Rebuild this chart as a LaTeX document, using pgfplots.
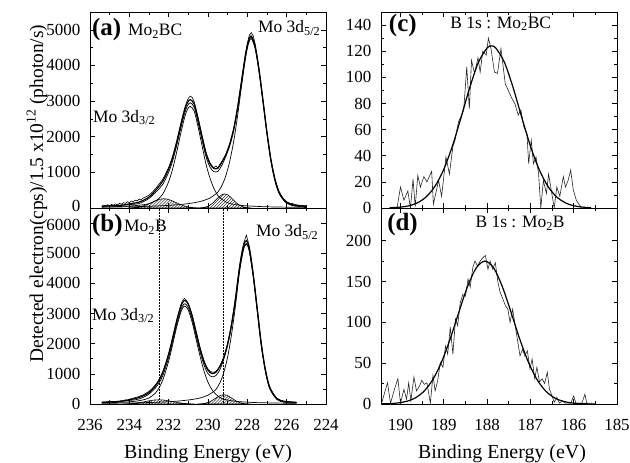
\documentclass[border=0pt]{standalone}
\usepackage{fontspec}
\setmainfont{Liberation Serif}
\usepackage{pgfplots}
\pgfplotsset{compat=1.18}
\usepackage{pgfplotstable}
\usetikzlibrary{patterns}

\pgfplotsset{
  panel/.style={
    scale only axis, width=236bp, height=196bp,
    x dir=reverse, tick align=inside,
    axis line style={line width=0.8bp},
    every tick/.style={line width=0.6bp, black},
    major tick length=5bp, minor tick length=3bp,
    ticklabel style={font=\fontsize{17}{19}\selectfont, inner sep=0.5bp},
    xticklabel style={yshift=-15bp},
    yticklabel style={xshift=-9bp},
    /pgf/number format/assume math mode=true,
    /pgf/number format/1000 sep={},
    scaled ticks=false,
    clip mode=individual,
  },
}
\tikzset{
  lbl/.style={font=\fontsize{17.5}{20}\selectfont, inner sep=0pt},
  letter/.style={font=\fontsize{25}{28}\selectfont\bfseries, inner sep=0pt},
}

% panel (a): x, upper envelope, lower envelope, Mo 3d5/2, Mo 3d3/2
\pgfplotstableread{
x      U     L     Ca    Cb
235.4  50    50    23    27
235.0  59    59    26    33
234.5  71    71    29    42
234.0  115   95    35    56
233.5  167   127   40    77
233.0  308   268   48    121
232.6  538   478   57    222
232.3  753   663   64    390
232.0  1093  1003  74    741
231.8  1409  1319  81    1092
231.6  1822  1732  89    1548
231.4  2291  2201  98    2058
231.2  2724  2634  110   2518
231.05 2955  2865  119   2761
230.9  3042  2952  131   2850
230.7  2912  2822  147   2716
230.5  2479  2389  170   2263
230.3  1991  1901  197   1744
230.1  1530  1440  233   1226
229.9  1240  1150  279   841
229.7  1112  1022  354   550
229.5  1116  1026  444   353
229.3  1283  1193  624   248
229.1  1480  1440  893   175
228.9  1776  1736  1299  126
228.7  2195  2155  1849  103
228.5  2795  2755  2570  86
228.3  3535  3495  3392  72
228.1  4272  4232  4173  62
227.95 4678  4638  4594  57
227.8  4825  4785  4750  53
227.6  4533  4493  4465  48
227.4  3862  3822  3800  42
227.2  3002  2962  2945  37
227.0  2110  2090  2066  34
226.8  1352  1332  1311  31
226.6  809   789   770   29
226.4  455   445   423   27
226.2  272   272   247   25
226.0  156   156   133   23
225.7  88    88    67    21
225.4  63    63    44    19
225.0  46    46    30    16
}\tabA

% panel (b)
\pgfplotstableread{
x      U     L     Ca    Cb
235.4  58    58    24    34
235.0  68    68    25    43
234.5  86    86    29    56
234.0  142   117   33    74
233.5  218   168   40    110
233.0  379   329   49    201
232.6  669   594   58    423
232.3  1046  936   66    796
232.0  1653  1543  75    1424
231.8  2174  2064  83    1963
231.6  2732  2622  93    2535
231.4  3193  3083  104   3006
231.3  3355  3245  111   3169
231.17 3437  3327  120   3250
231.0  3303  3193  133   3110
230.8  2904  2794  151   2698
230.6  2359  2249  172   2135
230.4  1828  1718  200   1573
230.2  1398  1288  241   1089
230.0  1117  1007  294   722
229.8  1011  901   374   475
229.6  1054  944   482   325
229.4  1241  1131  696   218
229.2  1533  1483  1039  159
229.0  1996  1946  1564  130
228.8  2649  2599  2321  106
228.6  3496  3446  3270  89
228.4  4511  4461  4357  78
228.2  5210  5160  5099  68
228.05 5420  5320  5300  63
227.9  5147  5097  5062  58
227.7  4289  4239  4214  50
227.5  3172  3122  3101  46
227.3  2042  1992  1975  42
227.1  1194  1164  1140  39
226.9  618   598   572   36
226.7  356   346   318   33
226.5  182   182   151   31
226.3  110   110   81    29
226.0  76    76    49    27
225.7  60    60    36    24
225.5  53    53    30    23
}\tabB

\begin{document}
\begin{tikzpicture}
\path[use as bounding box] (0,0) rectangle (630bp,463bp);

%================ (a)
\begin{axis}[panel, at={(90bp,255bp)}, anchor=south west,
  xmin=224, xmax=236, ymin=0, ymax=5500,
  xtick={224,226,...,236}, minor x tick num=1, xticklabels={},
  ytick={1000,2000,...,5000}, minor y tick num=1,
  extra y ticks={0}, extra y tick style={yticklabel style={yshift=2.5bp}}]
\addplot[draw=black, line width=0.6bp, pattern=north east lines] coordinates {
(234.05,3) (233.85,7) (233.65,17) (233.45,35) (233.25,65) (233.05,107) (232.85,158)
(232.65,208) (232.45,246) (232.25,260) (232.05,246) (231.85,208) (231.65,158)
(231.45,107) (231.25,65) (231.05,35) (230.85,17) (230.65,7) (230.45,3)} \closedcycle;
\addplot[draw=black, line width=0.6bp, pattern=north east lines] coordinates {
(230.5,2) (230.35,7) (230.2,17) (230.05,40) (229.9,80) (229.75,142) (229.6,223)
(229.45,306) (229.3,371) (229.15,395) (229.0,371) (228.85,306) (228.7,223)
(228.55,142) (228.4,80) (228.25,40) (228.1,17) (227.95,7) (227.8,2)} \closedcycle;
\addplot[smooth, black, line width=0.7bp] table[x=x, y=Ca] {\tabA};
\addplot[smooth, black, line width=0.7bp] table[x=x, y=Cb] {\tabA};
\addplot[smooth, black, line width=0.7bp] table[x=x, y=L] {\tabA};
\addplot[smooth, black, line width=1.2bp] table[x=x, y=U] {\tabA};
\addplot[black, line width=0.6bp] coordinates {
(235.4,45) (235.3,80) (235.2,50) (235.1,90) (235.0,65) (234.9,100) (234.8,75)
(234.7,115) (234.6,90) (234.5,130) (234.4,105) (234.3,150) (234.2,130) (234.1,175)
(234.0,150) (233.9,195) (233.8,170) (233.7,220) (233.6,200) (233.5,245) (233.4,230)
(233.3,280) (233.2,300) (233.1,330) (233.0,360) (232.9,410) (232.8,460) (232.7,530)
(232.6,590) (232.5,660) (232.4,730) (232.3,810) (232.2,910) (232.1,1030) (232.0,1140)
(231.9,1290) (231.8,1450) (231.7,1650) (231.6,1860) (231.5,2090) (231.4,2330)
(231.3,2560) (231.2,2780) (231.1,2950) (231.0,3080) (230.9,3140) (230.8,3100)
(230.7,2980) (230.6,2760) (230.5,2530) (230.4,2280) (230.3,2030) (230.2,1790)
(230.1,1560) (230.0,1410) (229.9,1270) (229.8,1190) (229.7,1130) (229.6,1180)
(229.5,1120) (229.4,1220) (229.3,1300) (229.2,1400) (229.1,1500) (229.0,1650)
(228.9,1800) (228.8,2010) (228.7,2220) (228.6,2520) (228.5,2830) (228.4,3200)
(228.3,3570) (228.2,3950) (228.1,4330) (228.0,4620) (227.9,4850) (227.8,4920)
(227.7,4830) (227.6,4600) (227.5,4250) (227.4,3900) (227.3,3460) (227.2,3030)
(227.1,2580) (227.0,2130) (226.9,1750) (226.8,1370) (226.7,1100) (226.6,830)
(226.5,650) (226.4,480) (226.3,380) (226.2,290) (226.1,235) (226.0,175) (225.9,150)
(225.8,130) (225.7,125) (225.6,100) (225.5,90) (225.4,80) (225.3,75) (225.2,70)
(225.1,65) (225.0,60)};
\node[letter, anchor=base west] at (axis cs:235.9,4830) {(a)};
\node[lbl, anchor=base west] at (axis cs:234.07,4830) {Mo\textsubscript{2}BC};
\node[lbl, anchor=base west] at (axis cs:227.46,4925) {Mo 3d\textsubscript{5/2}};
\node[lbl, anchor=base west] at (axis cs:235.85,2410) {Mo 3d\textsubscript{3/2}};
\end{axis}

%================ (b)
\begin{axis}[panel, at={(90bp,59bp)}, anchor=south west,
  xmin=224, xmax=236, ymin=0, ymax=6500,
  xtick={224,226,...,236}, minor x tick num=1,
  ytick={0,1000,...,5000}, minor y tick num=1,
  extra y ticks={6000}, extra y tick style={yticklabel style={yshift=-2bp}}]
\addplot[draw=black, line width=0.6bp, pattern=north east lines] coordinates {
(234.3,3) (234.1,7) (233.9,14) (233.7,25) (233.5,43) (233.3,66) (233.1,91) (232.9,116)
(232.7,134) (232.5,140) (232.3,134) (232.1,116) (231.9,91) (231.7,66) (231.5,43)
(231.3,25) (231.1,14) (230.9,7) (230.7,3)} \closedcycle;
\addplot[draw=black, line width=0.6bp, pattern=north east lines] coordinates {
(230.55,2) (230.4,5) (230.25,14) (230.1,31) (229.95,63) (229.8,112) (229.65,175)
(229.5,240) (229.35,291) (229.2,310) (229.05,291) (228.9,240) (228.75,175) (228.6,112)
(228.45,63) (228.3,31) (228.15,14) (228.0,5) (227.85,2)} \closedcycle;
\addplot[black, line width=0.5bp, densely dotted] coordinates {(232.5,0) (232.5,6500)};
\addplot[black, line width=0.5bp, densely dotted] coordinates {(229.2,0) (229.2,6500)};
\addplot[smooth, black, line width=0.7bp] table[x=x, y=Ca] {\tabB};
\addplot[smooth, black, line width=0.7bp] table[x=x, y=Cb] {\tabB};
\addplot[smooth, black, line width=0.7bp] table[x=x, y=L] {\tabB};
\addplot[smooth, black, line width=1.2bp] table[x=x, y=U] {\tabB};
\addplot[black, line width=0.6bp] coordinates {
(235.4,50) (235.3,70) (235.2,55) (235.1,60) (235.0,110) (234.9,65) (234.8,80)
(234.7,75) (234.6,95) (234.5,90) (234.4,110) (234.3,100) (234.2,140) (234.1,125)
(234.0,160) (233.9,175) (233.8,190) (233.7,215) (233.6,230) (233.5,250) (233.4,280)
(233.3,300) (233.2,340) (233.1,380) (233.0,420) (232.9,480) (232.8,540) (232.7,620)
(232.6,700) (232.5,800) (232.4,930) (232.3,1070) (232.2,1240) (232.1,1450)
(232.0,1680) (231.9,1930) (231.8,2200) (231.7,2480) (231.6,2760) (231.5,3020)
(231.4,3260) (231.3,3420) (231.2,3500) (231.1,3440) (231.0,3330) (230.9,3150)
(230.8,2940) (230.7,2680) (230.6,2400) (230.5,2130) (230.4,1860) (230.3,1640)
(230.2,1440) (230.1,1280) (230.0,1160) (229.9,1090) (229.8,1060) (229.7,1050)
(229.6,1090) (229.5,1150) (229.4,1260) (229.3,1400) (229.2,1560) (229.1,1770)
(229.0,2020) (228.9,2330) (228.8,2690) (228.7,3100) (228.6,3560) (228.5,4060)
(228.4,4560) (228.3,5000) (228.2,5300) (228.1,5500) (228.05,5600) (228.0,5480)
(227.9,5240) (227.8,4850) (227.7,4350) (227.6,3800) (227.5,3230) (227.4,2640)
(227.3,2090) (227.2,1610) (227.1,1220) (227.0,900) (226.9,650) (226.8,480)
(226.7,360) (226.6,260) (226.5,195) (226.4,150) (226.3,120) (226.2,100) (226.1,90)
(226.0,80) (225.9,75) (225.8,70) (225.7,65) (225.6,60) (225.5,55)};
\node[letter, anchor=base west] at (axis cs:235.9,5705) {(b)};
\node[lbl, anchor=base west] at (axis cs:234.27,5705) {Mo\textsubscript{2}B};
\node[lbl, anchor=base west] at (axis cs:227.56,5540) {Mo 3d\textsubscript{5/2}};
\node[lbl, anchor=base west] at (axis cs:235.9,2781) {Mo 3d\textsubscript{3/2}};
\end{axis}

%================ (c)
\begin{axis}[panel, at={(381bp,255bp)}, anchor=south west,
  xmin=185, xmax=190.45, ymin=0, ymax=150,
  xtick={185,...,190}, minor x tick num=1, xticklabels={},
  ytick={0,20,...,140}, minor y tick num=1]
\addplot[black!85, line width=0.6bp] coordinates {
(190.08,0) (190.0,16) (189.92,6) (189.83,13) (189.77,0) (189.71,22) (189.66,1)
(189.6,25) (189.54,16) (189.46,24) (189.39,20) (189.28,28) (189.24,3) (189.12,21)
(189.05,9) (188.95,39) (188.87,26) (188.79,47) (188.74,52) (188.66,66) (188.59,71)
(188.54,75) (188.47,108) (188.41,76) (188.36,113) (188.29,103) (188.21,115)
(188.16,104) (188.1,120) (188.02,117) (187.97,130) (187.91,122) (187.83,104)
(187.76,103) (187.68,122) (187.58,95) (187.51,90) (187.43,84) (187.36,80)
(187.28,71) (187.22,75) (187.15,62) (187.08,57) (187.04,34) (186.98,52) (186.93,34)
(186.87,39) (186.81,26) (186.76,0) (186.7,21) (186.63,11) (186.58,26) (186.52,14)
(186.45,0) (186.39,16) (186.32,9) (186.24,24) (186.19,16) (186.13,21) (186.07,29)
(186.01,14) (185.94,6) (185.82,0)};
\addplot[smooth, black, line width=1.2bp] coordinates {
(190.25,0.2) (190.0,0.7) (189.8,1.7) (189.6,4.1) (189.4,8.7) (189.2,16.8) (189.0,29.6)
(188.8,47.5) (188.6,69.4) (188.4,92.2) (188.2,111.5) (188.0,122.5) (187.9,124)
(187.8,122.5) (187.6,111.5) (187.4,92.2) (187.2,69.4) (187.0,47.5) (186.8,29.6)
(186.6,16.8) (186.4,8.7) (186.2,4.1) (186.0,1.7) (185.8,0.7) (185.6,0.2)};
\node[letter, anchor=base west] at (axis cs:190.27,134.9) {(c)};
\node[lbl, anchor=base west] at (axis cs:188.85,137.5) {B 1s : Mo\textsubscript{2}BC};
\end{axis}

%================ (d)
\begin{axis}[panel, at={(381bp,59bp)}, anchor=south west,
  xmin=185, xmax=190.45, ymin=0, ymax=240,
  xtick={185,...,190}, minor x tick num=1,
  ytick={0,50,...,200}, minor y tick num=1]
\addplot[black!85, line width=0.6bp] coordinates {
(190.43,2) (190.3,26) (190.23,1) (190.14,18) (190.06,31) (190.0,1) (189.92,18)
(189.86,6) (189.81,26) (189.76,4) (189.69,33) (189.63,16) (189.56,22) (189.51,29)
(189.45,24) (189.39,26) (189.31,1) (189.25,35) (189.2,16) (189.14,29) (189.08,51)
(189.02,45) (188.96,71) (188.91,61) (188.85,94) (188.79,61) (188.73,104) (188.68,96)
(188.62,124) (188.56,134) (188.5,132) (188.44,153) (188.39,143) (188.33,167)
(188.28,175) (188.22,169) (188.16,175) (188.1,179) (188.04,182) (187.98,165)
(187.93,175) (187.87,165) (187.81,173) (187.75,149) (187.7,137) (187.64,129)
(187.58,121) (187.52,116) (187.47,100) (187.41,116) (187.35,96) (187.3,79)
(187.24,59) (187.18,67) (187.13,59) (187.07,65) (187.01,43) (186.96,55) (186.9,31)
(186.85,45) (186.79,27) (186.73,31) (186.67,25) (186.61,39) (186.56,18) (186.5,10)
(186.45,2) (186.39,8) (186.33,1) (186.26,4) (186.2,1) (186.15,1) (186.07,1)
(186.0,10) (185.95,1) (185.81,1) (185.74,12) (185.7,1) (185.58,1)};
\addplot[smooth, black, line width=1.2bp] coordinates {
(190.45,0.15) (190.25,0.5) (190.05,1.3) (189.85,3.4) (189.65,7.7) (189.45,16)
(189.25,30.2) (189.05,51.7) (188.85,80.1) (188.65,112.8) (188.45,144) (188.25,166.7)
(188.05,175) (187.85,166.7) (187.65,144) (187.45,112.8) (187.25,80.1) (187.05,51.7)
(186.85,30.2) (186.65,16) (186.45,7.7) (186.25,3.4) (186.05,1.3) (185.85,0.5)
(185.65,0.15) (185.5,0)};
\node[letter, anchor=base west] at (axis cs:190.31,212) {(d)};
\node[lbl, anchor=base west] at (axis cs:188.27,216) {B 1s : Mo\textsubscript{2}B};
\end{axis}

\node[rotate=90, anchor=base, font=\fontsize{19.5}{22}\selectfont] at (43bp,269.5bp)
  {Detected electron(cps)/1.5 x10\textsuperscript{12} (photon/s)};
\node[anchor=base, font=\fontsize{20}{24}\selectfont] at (208bp,4.5bp) {Binding Energy (eV)};
\node[anchor=base, font=\fontsize{20}{24}\selectfont] at (502bp,4.5bp) {Binding Energy (eV)};
\end{tikzpicture}
\end{document}
